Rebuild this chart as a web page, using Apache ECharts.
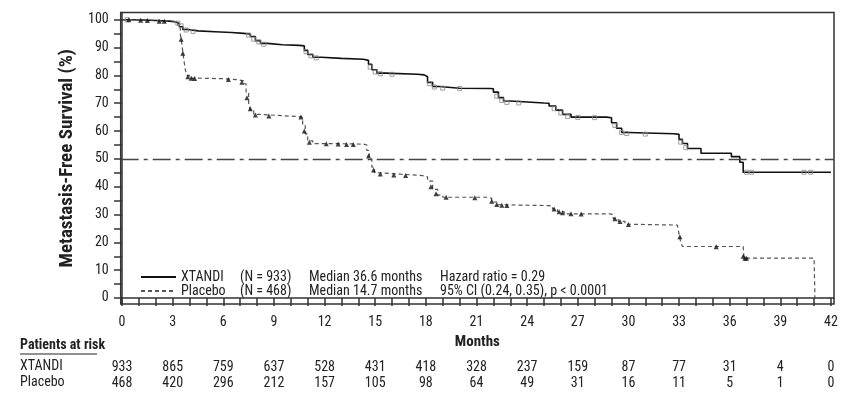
<!DOCTYPE html>
<html>
<head>
<meta charset="utf-8">
<script src="https://cdn.jsdelivr.net/npm/echarts@6/dist/echarts.min.js"></script>
<style>
html,body{margin:0;padding:0;background:#fff;}
#c{width:851px;height:396px;}
</style>
</head>
<body>
<div id="c"></div>
<script>
// ---- data ----
var monthTicks = [0,3,6,9,12,15,18,21,24,27,30,33,36,39,42];
var survTicks = [0,10,20,30,40,50,60,70,80,90,100];
var xtandiRisk = [933,865,759,637,528,431,418,328,237,159,87,77,31,4,0];
var placeboRisk = [468,420,296,212,157,105,98,64,49,31,16,11,5,1,0];

var xtandiCurve = [[0,100],[0.5,99.9],[1.2,99.7],[2,99.5],[2.8,99.2],[3.2,98.6],[3.4,97.5],[3.6,96.5],[3.9,96.0],[4.5,95.7],[5.5,95.4],[6.5,95.1],[7.2,94.9],[7.6,94],[7.9,92.5],[8.2,91.5],[8.6,91],[9.5,90.8],[10.5,90.6],[10.8,89],[11.0,87.5],[11.3,86.5],[11.8,86.1],[13,85.8],[14.3,85.4],[14.6,84],[14.8,82],[15.1,80.8],[15.6,80.4],[17.5,80.2],[17.9,79.5],[18.1,77.5],[18.4,76],[18.8,75.4],[20,75.3],[21.8,75.2],[22,74],[22.3,72],[22.6,70.8],[23,70.1],[25,70],[25.3,69],[25.7,67.5],[26.1,66],[26.6,65],[28.7,64.8],[29,63],[29.3,61],[29.6,59.5],[30,59],[32.7,58.8],[33.0,57],[33.2,55.5],[33.5,53.7],[34.3,52.0],[36.1,50.8],[36.6,48.8],[36.8,45.2],[42,45.2]];
var placeboCurve = [[0,100],[1,99.8],[2,99.5],[3,99.2],[3.3,98],[3.45,95],[3.55,91],[3.65,86],[3.75,82],[3.85,80],[4.0,79],[4.5,78.8],[6,78.5],[6.8,78],[7.2,77],[7.35,74],[7.5,70],[7.6,67.5],[7.8,66],[8.2,65.5],[9.5,65.2],[10.5,64.8],[10.7,62],[10.85,59],[11.0,56.5],[11.3,55.5],[12.5,55.3],[14.3,55],[14.5,53],[14.65,50],[14.8,47],[14.95,45],[15.3,44.5],[16.5,44],[17.8,43.5],[18.1,42],[18.4,39],[18.7,37],[19.0,36.2],[21.7,35.8],[21.9,34.5],[22.2,33.5],[22.6,33.2],[25.3,33],[25.5,32],[25.8,31],[26.2,30.2],[28.9,30],[29.1,28.5],[29.4,27.5],[29.8,26.5],[30.2,26.2],[32.9,26],[33.0,23],[33.1,20],[33.2,18.5],[36.8,18.3],[36.85,14.3],[41.0,14.3],[41.05,0],[42,0]];

var xtandiCensor = [[0.3,100],[3.3,98.8],[3.5,97.8],[3.8,96.3],[4.2,95.8],[7.5,94.5],[7.8,93],[8.1,92],[8.4,91.2],[10.9,88.5],[11.2,87],[11.5,86.3],[14.7,83],[15.0,81.2],[15.3,80.6],[16,80.4],[18.2,77],[18.5,75.8],[19,75.4],[20,75.3],[22.2,72.5],[22.5,71],[22.8,70.3],[23.5,70.1],[25.6,68],[26,66.5],[26.4,65.2],[27,64.9],[28,64.8],[29.2,62],[29.6,59.5],[29.9,59.1],[31,58.9],[33.1,56],[33.4,54],[37,45.2],[37.3,45.2],[40.4,45.2],[40.8,45.2]];
var placeboCensor = [[0.4,100],[1.1,99.8],[1.5,99.7],[2.2,99.5],[2.5,99.5],[3.5,93],[3.6,88],[3.9,79.5],[4.1,79],[4.3,78.9],[6.3,78.5],[7.1,77.5],[7.4,72],[7.6,68],[7.9,65.8],[8.7,65.4],[10.6,65],[10.8,60],[11.1,56],[12.1,55.4],[12.8,55.3],[13.3,55.2],[13.7,55.2],[14.6,51],[14.9,46],[15.3,44.6],[16.1,44.2],[16.8,44],[18.3,40],[18.6,37.5],[19.2,36.2],[20.9,36],[21.9,34.8],[22.2,33.6],[22.5,33.3],[22.8,33.2],[25.6,32],[25.9,31],[26.1,30.6],[26.6,30.3],[27.2,30.2],[29.2,28.5],[29.5,27.5],[30.0,26.4],[33.05,22],[35.2,18.4],[36.8,15],[36.9,14.3],[37.0,14.3]];

var minorMonthTicks = [];
for (var i = 0; i <= 42; i++) minorMonthTicks.push(i);
var minorSurvTicks = [];
for (var j = 0; j <= 100; j += 5) minorSurvTicks.push(j);

var FONT = '"Roboto Condensed","DejaVu Sans Condensed",sans-serif';
var TXT = '#222';

var chart = echarts.init(document.getElementById('c'), null, {renderer:'canvas'});

function riskAxis(values, margin) {
  return {
    type:'value', gridIndex:0, position:'bottom', min:-0.08, max:42.18,
    axisLine:{show:false}, axisTick:{show:false}, splitLine:{show:false},
    axisLabel:{show:true, customValues: monthTicks, margin: margin,
      fontFamily:FONT, fontSize:14, color:TXT,
      formatter:function(v){ return String(values[Math.round(v/3)]); }}
  };
}

var rs = function(w){ var o = {fontFamily:FONT, fontSize:14, color:TXT, lineHeight:16}; if (w) o.width = w; return o; };

chart.setOption({
  animation:false,
  backgroundColor:'#fff',
  grid:{left:120.7, right:17, top:12.5, bottom:92, show:true, borderColor:'#333', borderWidth:1.5, backgroundColor:'transparent'},
  legend:{
    data:['XTANDI','Placebo'], orient:'vertical', left:135, top:265,
    itemWidth:35, itemHeight:12, itemGap:0,
    itemStyle:{opacity:0, borderWidth:0},
    textStyle:{fontFamily:FONT, fontSize:14, color:TXT,
      rich:{ a:rs(59), b:rs(69), c:rs(131), d:rs(0) }},
    formatter:function(name){
      if (name === 'XTANDI') return '{a|XTANDI}{b|(N = 933)}{c|Median 36.6 months}{d|Hazard ratio = 0.29}';
      return '{a|Placebo}{b|(N = 468)}{c|Median 14.7 months}{d|95% CI (0.24, 0.35), p < 0.0001}';
    }
  },
  xAxis:[{
    type:'value', min:-0.08, max:42.18,
    name:'Months', nameLocation:'middle', nameGap:31,
    nameTextStyle:{fontFamily:FONT, fontSize:15, fontWeight:'bold', color:TXT},
    axisLine:{show:true, lineStyle:{color:'#333', width:1.5}},
    axisTick:{show:true, inside:false, length:8, customValues:minorMonthTicks, lineStyle:{color:'#333', width:1.5}},
    axisLabel:{customValues:monthTicks, margin:11, fontFamily:FONT, fontSize:14, color:TXT},
    splitLine:{show:false}
  }, riskAxis(xtandiRisk, 56), riskAxis(placeboRisk, 72)],
  yAxis:{
    type:'value', min:-2.16, max:102.6,
    name:'Metastasis-Free Survival (%)', nameLocation:'middle', nameGap:41,
    nameTextStyle:{fontFamily:FONT, fontSize:19, fontWeight:'bold', color:TXT},
    axisLine:{show:true, lineStyle:{color:'#333', width:1.5}},
    axisTick:{show:true, length:8, customValues:minorSurvTicks, lineStyle:{color:'#333', width:1.5}},
    axisLabel:{customValues:survTicks, margin:12, fontFamily:FONT, fontSize:14, color:TXT},
    splitLine:{show:false}
  },
  graphic:[
    {type:'text', left:20, top:338, style:{text:'Patients at risk', font:'bold 14px '+FONT, fill:TXT}},
    {type:'line', shape:{x1:20, y1:354, x2:97, y2:354}, style:{stroke:TXT, lineWidth:1}},
    {type:'text', left:20, top:359, style:{text:'XTANDI', font:'14px '+FONT, fill:TXT}},
    {type:'text', left:20, top:375, style:{text:'Placebo', font:'14px '+FONT, fill:TXT}}
  ],
  series:[
    {name:'XTANDI', type:'line', step:'end', data:xtandiCurve, symbol:'none',
      lineStyle:{color:'#111', width:1.6}, itemStyle:{color:'#111'}, z:3,
      markLine:{silent:true, symbol:'none', label:{show:false},
        lineStyle:{color:'#444', width:1.4, type:[18,5,4,5]},
        data:[{yAxis:50}]}},
    {name:'Placebo', type:'line', step:'end', data:placeboCurve, symbol:'none',
      lineStyle:{color:'#555', width:1.2, type:[4,3]}, itemStyle:{color:'#555'}, z:3},
    {name:'XTANDI censored', type:'scatter', data:xtandiCensor, symbol:'rect', symbolSize:4,
      itemStyle:{color:'rgba(255,255,255,0)', borderColor:'#888', borderWidth:1}, z:4},
    {name:'Placebo censored', type:'scatter', data:placeboCensor, symbol:'triangle', symbolSize:5,
      itemStyle:{color:'#111'}, z:4}
  ]
});
</script>
</body>
</html>
